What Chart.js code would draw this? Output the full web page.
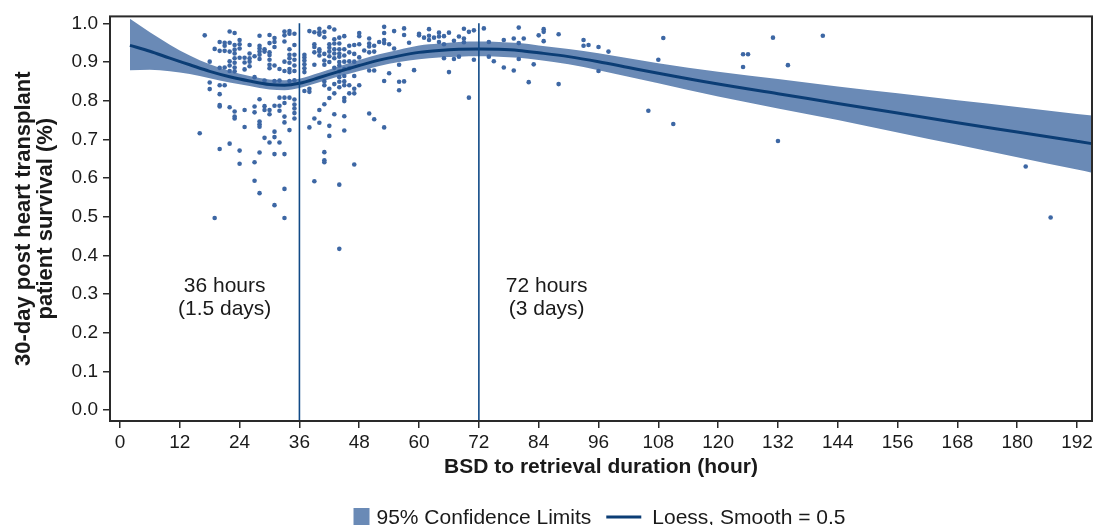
<!DOCTYPE html>
<html>
<head>
<meta charset="utf-8">
<script src="https://cdn.jsdelivr.net/npm/chart.js@4.4.1/dist/chart.umd.min.js"></script>
<style>
  html, body { margin: 0; padding: 0; background: #fff; }
</style>
</head>
<body>
<canvas id="chart" width="1098" height="525"></canvas>
<script>
// loess fit + 95% limits
const fitHours = [2, 6, 10, 14, 18, 22, 26, 30, 33, 36, 40, 44, 48, 52, 56, 60, 64, 68, 72, 76, 80, 84, 90, 96, 102, 108, 120, 132, 144, 156, 168, 180, 192, 195];
const fitSurvival = [0.943, 0.928, 0.910, 0.893, 0.876, 0.862, 0.851, 0.842, 0.840, 0.845, 0.860, 0.876, 0.891, 0.905, 0.916, 0.925, 0.930, 0.933, 0.934, 0.933, 0.930, 0.924, 0.914, 0.901, 0.886, 0.871, 0.843, 0.818, 0.793, 0.768, 0.743, 0.719, 0.695, 0.689];
const upperLimit = [1.012, 0.977, 0.945, 0.917, 0.894, 0.877, 0.864, 0.855, 0.853, 0.857, 0.872, 0.889, 0.905, 0.920, 0.932, 0.943, 0.948, 0.952, 0.953, 0.952, 0.949, 0.943, 0.934, 0.923, 0.910, 0.897, 0.875, 0.856, 0.837, 0.819, 0.801, 0.784, 0.766, 0.762];
const lowerLimit = [0.879, 0.880, 0.876, 0.869, 0.858, 0.847, 0.838, 0.829, 0.827, 0.833, 0.848, 0.863, 0.877, 0.890, 0.900, 0.907, 0.912, 0.914, 0.915, 0.914, 0.911, 0.905, 0.894, 0.879, 0.862, 0.845, 0.811, 0.780, 0.750, 0.718, 0.686, 0.654, 0.622, 0.614];

// individual donors: hour column and the survival values seen in that column
const pointHours = [16, 17, 18, 19, 20, 21, 22, 23, 24, 25, 26, 27, 28, 29, 30, 31, 32, 33, 34, 35,
  37, 38, 39, 40, 41, 42, 43, 44, 45, 46, 47, 48, 49, 50, 51, 52, 53, 54, 55, 56, 57, 58, 59, 60,
  61, 62, 63, 64, 65, 66, 67, 68, 69, 70, 71, 73, 74, 75, 77, 79, 80, 81, 82, 83, 84, 85, 88,
  93, 94, 96, 98, 106, 108, 109, 111, 125, 126, 131, 132, 134, 141, 181.7, 186.7];
const pointSurvival = [
  [0.716], [0.969], [0.901, 0.847, 0.830], [0.934, 0.497],
  [0.952, 0.929, 0.885, 0.840, 0.817, 0.789, 0.785, 0.675],
  [0.950, 0.942, 0.929, 0.886, 0.840],
  [0.979, 0.950, 0.927, 0.902, 0.891, 0.877, 0.783, 0.689],
  [0.975, 0.944, 0.932, 0.922, 0.910, 0.898, 0.886, 0.876, 0.772, 0.759, 0.754],
  [0.957, 0.946, 0.935, 0.911, 0.671, 0.637],
  [0.911, 0.899, 0.881, 0.776, 0.732],
  [0.944, 0.922, 0.910, 0.901, 0.889],
  [0.915, 0.861, 0.785, 0.770, 0.641, 0.593],
  [0.968, 0.942, 0.935, 0.927, 0.919, 0.908, 0.804, 0.746, 0.739, 0.733, 0.666, 0.561],
  [0.933, 0.927, 0.852, 0.786, 0.776, 0.704],
  [0.970, 0.949, 0.925, 0.918, 0.906, 0.893, 0.884, 0.776, 0.765, 0.692],
  [0.962, 0.952, 0.939, 0.891, 0.851, 0.787, 0.720, 0.706, 0.662, 0.530],
  [0.882, 0.852, 0.808, 0.787, 0.774, 0.692],
  [0.979, 0.969, 0.953, 0.901, 0.877, 0.808, 0.794, 0.759, 0.744, 0.662, 0.572, 0.497],
  [0.980, 0.973, 0.933, 0.919, 0.910, 0.898, 0.882, 0.874, 0.851, 0.808, 0.724],
  [0.973, 0.944, 0.919, 0.906, 0.891, 0.877, 0.853, 0.803, 0.790, 0.780, 0.768, 0.754],
  [0.919, 0.912, 0.904, 0.894, 0.884, 0.874, 0.825],
  [0.980, 0.831, 0.823, 0.731],
  [0.977, 0.946, 0.939, 0.925, 0.893, 0.754, 0.592],
  [0.986, 0.977, 0.971, 0.933, 0.927, 0.917, 0.776, 0.743],
  [0.978, 0.964, 0.921, 0.904, 0.893, 0.850, 0.840, 0.791, 0.667, 0.646, 0.641],
  [0.990, 0.946, 0.937, 0.927, 0.915, 0.900, 0.831, 0.807, 0.735, 0.709],
  [0.984, 0.959, 0.948, 0.933, 0.922, 0.910, 0.885, 0.843, 0.819, 0.765],
  [0.963, 0.948, 0.933, 0.922, 0.914, 0.900, 0.891, 0.876, 0.861, 0.849, 0.835, 0.583, 0.417],
  [0.967, 0.933, 0.917, 0.901, 0.882, 0.864, 0.850, 0.840, 0.807, 0.799, 0.760, 0.723],
  [0.942, 0.925, 0.902, 0.884, 0.840, 0.819],
  [0.944, 0.921, 0.901, 0.864, 0.831, 0.819, 0.635],
  [0.975, 0.967, 0.946, 0.912, 0.840],
  [0.930],
  [0.961, 0.948, 0.940, 0.925, 0.878, 0.767],
  [0.942, 0.927, 0.878, 0.752],
  [0.952],
  [0.991, 0.975, 0.957, 0.949, 0.851, 0.731],
  [0.946, 0.871],
  [0.980, 0.935],
  [0.893, 0.849, 0.827],
  [0.987, 0.970, 0.850],
  [0.950],
  [0.879],
  [0.973, 0.969],
  [0.963],
  [0.985, 0.968, 0.957],
  [0.963],
  [0.976, 0.966, 0.952],
  [0.967, 0.946, 0.910],
  [0.976, 0.874],
  [0.955, 0.908],
  [0.966, 0.914],
  [0.986, 0.961, 0.951],
  [0.978, 0.808],
  [0.982, 0.906],
  [0.987],
  [0.952, 0.914],
  [0.902],
  [0.957, 0.886],
  [0.961, 0.878],
  [0.989, 0.949, 0.908],
  [0.961],
  [0.848],
  [0.894],
  [0.969],
  [0.985, 0.978, 0.954],
  [0.972, 0.843],
  [0.957, 0.942],
  [0.944],
  [0.939, 0.877],
  [0.927],
  [0.774],
  [0.906],
  [0.962],
  [0.740],
  [0.887, 0.920],
  [0.920],
  [0.963],
  [0.696],
  [0.892],
  [0.968],
  [0.630],
  [0.498]
];

const cutoffHours = [36, 72];
const cutoffNotes = [["36 hours", "(1.5 days)"], ["72 hours", "(3 days)"]];
const noteHours = [21, 85.6];
const noteSurvival = 0.32;

const xTicks = [0, 12, 24, 36, 48, 60, 72, 84, 96, 108, 120, 132, 144, 156, 168, 180, 192];
const yTicks = [0, 0.1, 0.2, 0.3, 0.4, 0.5, 0.6, 0.7, 0.8, 0.9, 1.0];
const xMin = -2, xMax = 195;
const yMin = -0.028, yMax = 1.018;

const FONT = "'Liberation Sans', Arial, Helvetica, sans-serif";
const BAND = "#6a8ab6";
const FIT = "#0b3d75";
const DOT = "#3d67a4";
const INK = "#1a1a1a";

const scatterData = [];
pointHours.forEach((h, i) => {
  pointSurvival[i].forEach((v) => scatterData.push({ x: h, y: v }));
});
const toXY = (ys) => fitHours.map((h, i) => ({ x: h, y: ys[i] }));

const cutoffSets = cutoffHours.map((h) => ({
  type: "line",
  data: [{ x: h, y: yMin }, { x: h, y: 1.0 }],
  borderColor: "#114a87",
  borderWidth: 1.6,
  pointRadius: 0,
  fill: false,
  order: 1,
}));

// frame round the plot, the two cutoff labels and the legend
const extras = {
  id: "extras",
  afterDraw(chart) {
    const { ctx, chartArea, scales } = chart;
    ctx.save();
    ctx.strokeStyle = "#2a2a2a";
    ctx.lineWidth = 2;
    ctx.strokeRect(chartArea.left, chartArea.top, chartArea.right - chartArea.left, chartArea.bottom - chartArea.top);

    ctx.fillStyle = INK;
    ctx.font = "21px " + FONT;
    ctx.textAlign = "center";
    ctx.textBaseline = "middle";
    cutoffNotes.forEach((lines, i) => {
      const x = scales.x.getPixelForValue(noteHours[i]);
      const y = scales.y.getPixelForValue(noteSurvival);
      lines.forEach((t, j) => ctx.fillText(t, x, y + j * 23));
    });

    // legend, partly cut by the bottom edge like the original
    const t1 = "95% Confidence Limits", t2 = "Loess, Smooth = 0.5";
    const w1 = ctx.measureText(t1).width, w2 = ctx.measureText(t2).width;
    const total = 16 + 7 + w1 + 15 + 35 + 11 + w2;
    let x = 599.5 - total / 2;
    const base = 524;
    ctx.fillStyle = BAND;
    ctx.fillRect(x, base - 16, 16, 18);
    x += 23;
    ctx.fillStyle = INK;
    ctx.textAlign = "left";
    ctx.textBaseline = "alphabetic";
    ctx.fillText(t1, x, base);
    x += w1 + 15;
    ctx.strokeStyle = FIT;
    ctx.lineWidth = 3;
    ctx.beginPath();
    ctx.moveTo(x, base - 7);
    ctx.lineTo(x + 35, base - 7);
    ctx.stroke();
    x += 46;
    ctx.fillText(t2, x, base);
    ctx.restore();
  },
};

new Chart(document.getElementById("chart"), {
  type: "scatter",
  data: {
    datasets: [
      { type: "line", data: toXY(lowerLimit), borderWidth: 0, pointRadius: 0, fill: false, cubicInterpolationMode: "monotone", order: 5 },
      { type: "line", data: toXY(upperLimit), borderWidth: 0, pointRadius: 0, fill: "-1", backgroundColor: BAND, cubicInterpolationMode: "monotone", order: 4 },
      { data: scatterData, pointRadius: 2.3, pointBackgroundColor: DOT, pointBorderWidth: 0, order: 3 },
      { type: "line", data: toXY(fitSurvival), borderColor: FIT, borderWidth: 3, pointRadius: 0, fill: false, cubicInterpolationMode: "monotone", order: 2 },
      ...cutoffSets,
    ],
  },
  options: {
    responsive: false,
    animation: false,
    layout: { padding: { left: 0, right: 6, top: 12, bottom: 46 } },
    plugins: { legend: { display: false }, tooltip: { enabled: false } },
    scales: {
      x: {
        type: "linear",
        min: xMin,
        max: xMax,
        afterFit: (s) => { s.height = 58; },
        afterBuildTicks: (s) => { s.ticks = xTicks.map((v) => ({ value: v })); },
        grid: { drawOnChartArea: false, drawTicks: true, tickLength: 7, color: "#2a2a2a", lineWidth: 1.5 },
        border: { display: false },
        ticks: { color: INK, padding: 3, maxRotation: 0, font: { family: FONT, size: 19 } },
        title: {
          display: true,
          text: "BSD to retrieval duration (hour)",
          color: INK,
          padding: { top: 0, bottom: 1 },
          font: { family: FONT, size: 21, weight: "bold", lineHeight: 1.05 },
        },
      },
      y: {
        type: "linear",
        min: yMin,
        max: yMax,
        afterFit: (s) => { s.width = 110; },
        afterBuildTicks: (s) => { s.ticks = yTicks.map((v) => ({ value: v })); },
        grid: { drawOnChartArea: false, drawTicks: true, tickLength: 7, color: "#2a2a2a", lineWidth: 1.5 },
        border: { display: false },
        ticks: { color: INK, padding: 5, callback: (v) => v.toFixed(1), font: { family: FONT, size: 19 } },
        title: {
          display: true,
          text: ["30-day post heart transplant", "patient survival (%)"],
          color: INK,
          padding: { top: 13, bottom: 0 },
          font: { family: FONT, size: 22, weight: "bold", lineHeight: 1.0 },
        },
      },
    },
  },
  plugins: [extras],
});
</script>
</body>
</html>
